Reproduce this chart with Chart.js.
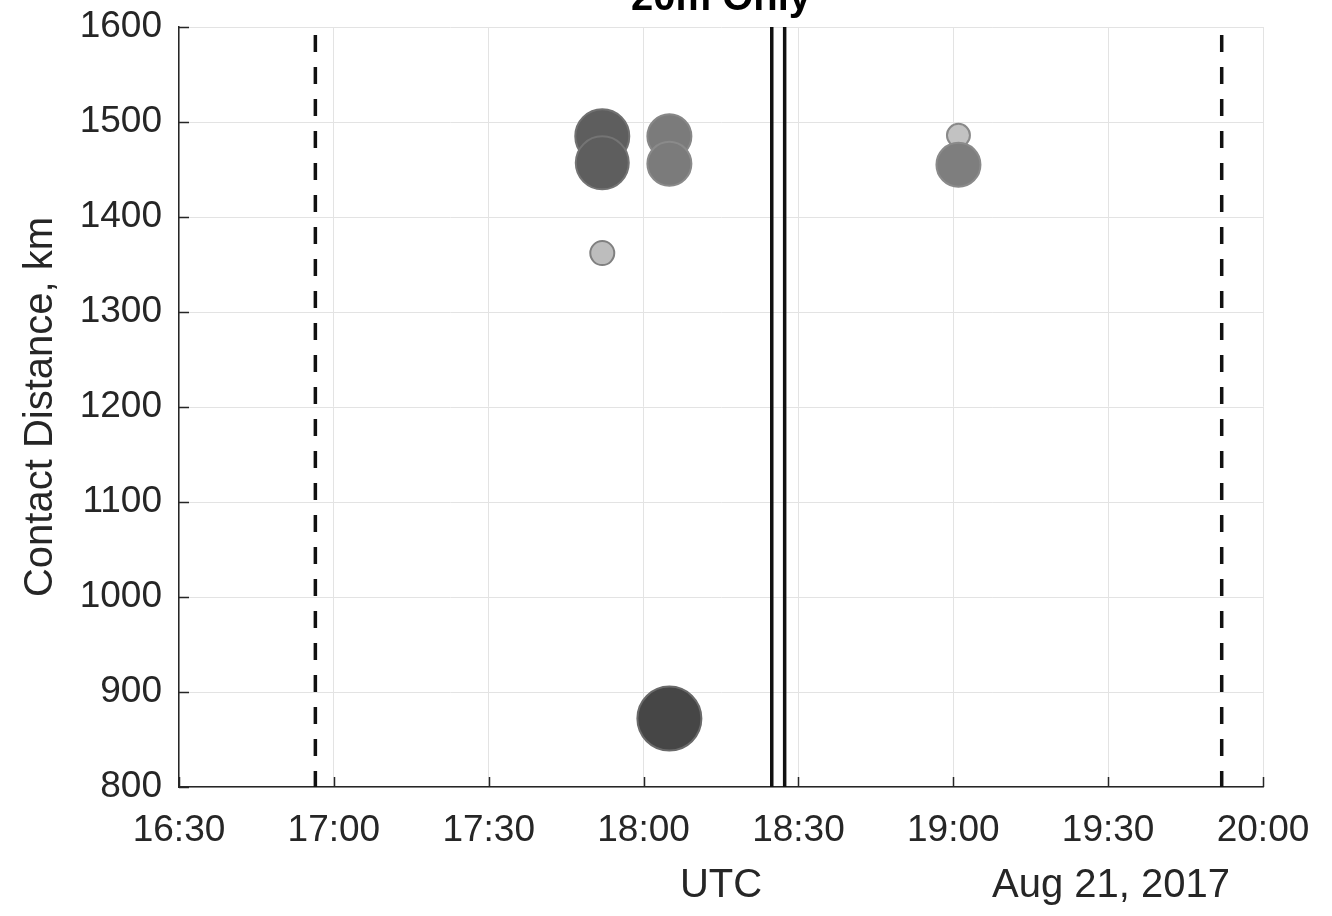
<!DOCTYPE html>
<html>
<head>
<meta charset="utf-8">
<script src="https://cdn.jsdelivr.net/npm/chart.js@4.4.1/dist/chart.umd.min.js"></script>
<style>
  html, body { margin: 0; padding: 0; background: #fff; }
  #wrap { width: 1332px; height: 916px; }
</style>
</head>
<body>
<div id="wrap"><canvas id="chart" width="1332" height="916"></canvas></div>
<script>
// spot times (UTC), contact distance (km) and marker size
const spotTimes = ["17:52:00", "17:52:00", "17:52:00", "18:05:00", "18:05:00", "18:05:00", "19:01:00", "19:01:00"];
const distances = [1485, 1457, 1362, 1485, 1456, 872, 1486, 1455];
const sizes = [27, 26.5, 12, 22, 22, 32, 11.5, 22];

// eclipse reference times
const dashedTimes = ["16:56:25", "19:52:00"];
const solidTimes = ["18:24:50", "18:27:20"];

const xTicks = ["16:30", "17:00", "17:30", "18:00", "18:30", "19:00", "19:30", "20:00"];
const yMin = 800, yMax = 1600, yStep = 100;

const fills = ["#5e5e5e", "#5e5e5e", "#bdbdbd", "#7b7b7b", "#7b7b7b", "#464646", "#c2c2c2", "#7e7e7e"];
const edges = ["#717171", "#747474", "#808080", "#878787", "#8a8a8a", "#6a6a6a", "#8a8a8a", "#8a8a8a"];

function toMin(s) {
    const p = s.split(":").map(Number);
    return p[0] * 60 + p[1] + (p[2] || 0) / 60;
}
function fmt(v) {
    const h = Math.floor(v / 60), m = Math.round(v - h * 60);
    return h + ":" + String(m).padStart(2, "0");
}

const axisColor = "#262626";
const fontFamily = "'Liberation Sans', Arial, Helvetica, sans-serif";

const vline = (t, dashed) => ({
    type: "line",
    data: [{ x: toMin(t), y: yMax }, { x: toMin(t), y: yMin }],
    borderColor: "#111",
    borderWidth: 3.5,
    borderDash: dashed ? [17, 15] : [],
    borderDashOffset: dashed ? 24 : 0,
    pointRadius: 0,
    fill: false,
    order: 2,
});

// inner tick marks, title and date text in MATLAB style
const extras = {
    id: "extras",
    afterDraw(chart) {
        const { ctx, chartArea: a, scales: { x, y } } = chart;
        ctx.save();
        ctx.strokeStyle = axisColor;
        ctx.lineWidth = 1.5;
        ctx.beginPath();
        x.ticks.forEach((t) => {
            const px = Math.round(x.getPixelForValue(t.value)) + 0.5;
            ctx.moveTo(px, a.bottom);
            ctx.lineTo(px, a.bottom - 10);
        });
        y.ticks.forEach((t) => {
            const py = Math.round(y.getPixelForValue(t.value)) + 0.5;
            ctx.moveTo(a.left, py);
            ctx.lineTo(a.left + 10, py);
        });
        ctx.stroke();

        ctx.fillStyle = "#000";
        ctx.font = "bold 40px " + fontFamily;
        ctx.textAlign = "center";
        ctx.textBaseline = "alphabetic";
        ctx.fillText("20m Only", (a.left + a.right) / 2, 10);

        ctx.fillStyle = axisColor;
        ctx.font = "40px " + fontFamily;
        ctx.textBaseline = "middle";
        ctx.fillText("Aug 21, 2017", 1111, 886);
        ctx.restore();
    },
};

new Chart(document.getElementById("chart"), {
    type: "bubble",
    data: {
        datasets: [
            {
                data: spotTimes.map((t, i) => ({ x: toMin(t), y: distances[i], r: sizes[i] })),
                backgroundColor: fills,
                borderColor: edges,
                borderWidth: 2,
                order: 1,
            },
            ...dashedTimes.map((t) => vline(t, true)),
            ...solidTimes.map((t) => vline(t, false)),
        ],
    },
    options: {
        responsive: false,
        animation: false,
        events: [],
        layout: { autoPadding: false, padding: { top: 27, right: 69, left: 0, bottom: 0 } },
        plugins: { legend: { display: false }, tooltip: { enabled: false } },
        scales: {
            x: {
                type: "linear",
                min: toMin(xTicks[0]),
                max: toMin(xTicks[xTicks.length - 1]),
                afterBuildTicks: (s) => { s.ticks = xTicks.map((t) => ({ value: toMin(t) })); },
                afterFit: (s) => { s.height = 129; s.paddingLeft = 0; s.paddingRight = 0; },
                ticks: {
                    callback: (v) => fmt(v),
                    color: axisColor,
                    font: { family: fontFamily, size: 37 },
                    padding: 22,
                    maxRotation: 0,
                    autoSkip: false,
                },
                grid: { color: "#e3e3e3", lineWidth: 1, drawTicks: false },
                border: { color: axisColor, width: 1.5 },
                title: {
                    display: true,
                    text: "UTC",
                    color: axisColor,
                    font: { family: fontFamily, size: 40 },
                    padding: { top: 0, bottom: 6 },
                },
            },
            y: {
                min: yMin,
                max: yMax,
                afterFit: (s) => { s.width = 179; s.paddingTop = 0; s.paddingBottom = 0; },
                ticks: {
                    stepSize: yStep,
                    callback: (v) => String(v),
                    color: axisColor,
                    font: { family: fontFamily, size: 37 },
                    padding: 17,
                },
                grid: { color: "#e3e3e3", lineWidth: 1, drawTicks: false },
                border: { color: axisColor, width: 1.5 },
                title: {
                    display: true,
                    text: "Contact Distance, km",
                    color: axisColor,
                    font: { family: fontFamily, size: 40 },
                    padding: { top: 17, bottom: 0 },
                },
            },
        },
    },
    plugins: [extras],
});
</script>
</body>
</html>
